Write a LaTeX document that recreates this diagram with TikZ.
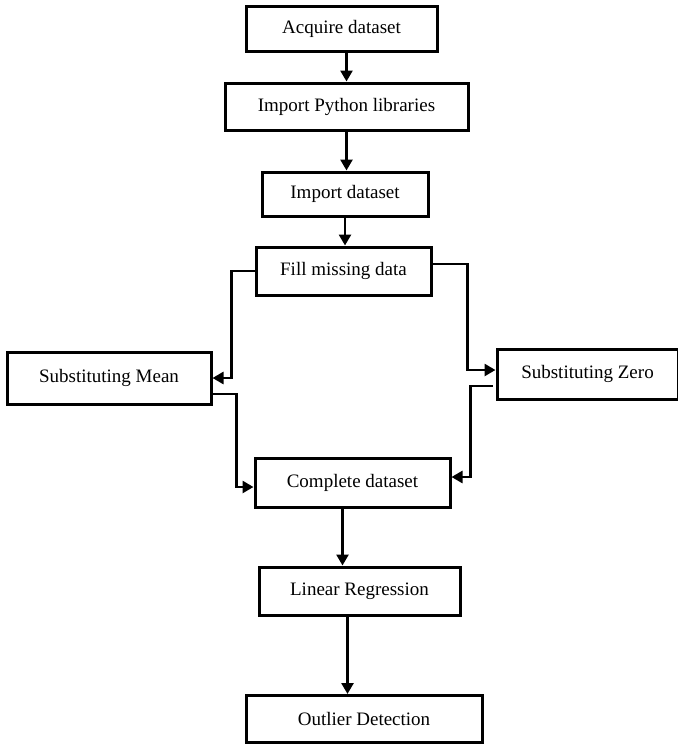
\documentclass[tikz,border=0pt]{standalone}
\usepackage{fontspec}
\setmainfont{Liberation Serif}
\usetikzlibrary{arrows.meta}
\tikzset{
	stage/.style={draw, line width=3pt, inner sep=0pt, align=center,
		font=\fontsize{19}{22}\selectfont},
	arr/.style={line width=2.6pt, -{Triangle[length=11pt,width=12pt]}}
}

\begin{document}
\begin{tikzpicture}[x=1pt, y=-1pt]
		%%%%% START %%%%%
		\useasboundingbox (0, 0) rectangle (678, 745);
		
		\node[stage, minimum width=191pt, minimum height=45pt] (acq) at (341.5, 28.5) {Acquire dataset};
		\node[stage, minimum width=243pt, minimum height=47pt] (libs) at (346.5, 106.5) {Import Python libraries};
		\node[stage, minimum width=166pt, minimum height=44pt] (imp) at (345, 194) {Import dataset};
		\node[stage, minimum width=175pt, minimum height=48pt] (fill) at (343.5, 271) {Fill missing data};
		
		\node[stage, minimum width=204pt, minimum height=52pt] (mean) at (109, 378) {Substituting Mean};
		\node[stage, minimum width=181pt, minimum height=50pt] (zero) at (587.5, 374) {Substituting Zero};
		
		\node[stage, minimum width=195pt, minimum height=49pt] (comp) at (352.5, 482.5) {Complete dataset};
		\node[stage, minimum width=201pt, minimum height=48pt] (lin) at (359.5, 591) {Linear Regression};
		\node[stage, minimum width=236pt, minimum height=47pt] (outl) at (364, 719) {Outlier Detection};
		
		% straight chain at the top
		\draw[arr] (acq.south -| libs.north) -- (libs.north);
		\draw[arr] (libs.south) -- (imp.north -| libs.south);
		\draw[arr] (imp.south) -- (fill.north -| imp.south);
		
		% the two ways of filling
		\draw[arr] (fill.west) -- ++(-23, 0) |- (mean.east);
		\draw[arr] ([yshift=7pt]fill.east) -- ++(35, 0) |- ([yshift=4pt]zero.west);
		\draw[arr] ([yshift=-16pt]mean.east) -- ++(24, 0) |- ([yshift=-4.5pt]comp.west);
		\draw[arr] ([shift={(-3pt,-12pt)}]zero.west) -- ++(-22, 0) |- ([yshift=5.5pt]comp.east);
		
		% model and detection
		\draw[arr] ([xshift=-10pt]comp.south) -- ([xshift=-10pt]comp.south |- lin.north);
		\draw[arr] ([xshift=-12pt]lin.south) -- ([xshift=-12pt]lin.south |- outl.north);
		%%%%% END %%%%%
	\end{tikzpicture}
\end{document}
